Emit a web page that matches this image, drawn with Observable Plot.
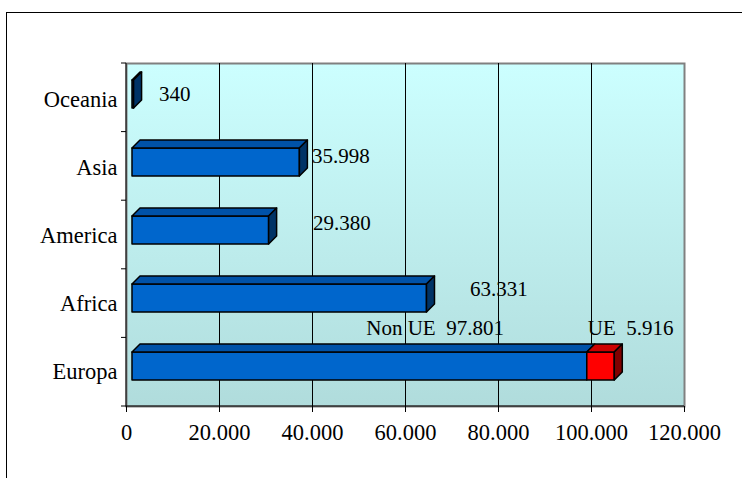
<!DOCTYPE html>
<html>
<head>
<meta charset="utf-8">
<script src="https://cdn.jsdelivr.net/npm/d3@7"></script>
<script src="https://cdn.jsdelivr.net/npm/@observablehq/plot@0.6"></script>
<style>
  html, body { margin: 0; padding: 0; background: #fff; overflow: hidden; width: 742px; height: 478px; }
  #frame { position: absolute; left: 6px; top: 12px; width: 800px; height: 600px; border: 1px solid #000; box-sizing: border-box; }
  #chart { position: absolute; left: 0; top: 0; }
  #chart text { white-space: pre; }
</style>
</head>
<body>
<div id="frame"></div>
<div id="chart"></div>
<script>
// ---- data ----
const categories = ["Oceania", "Asia", "America", "Africa", "Europa"];
const nonUE = [340, 35998, 29380, 63331, 97801];
const ue = [0, 0, 0, 0, 5916];
const xTicks = [0, 20000, 40000, 60000, 80000, 100000, 120000];
const labelTexts = ["340", "35.998", "29.380", "63.331", "Non UE  97.801", "UE  5.916"];
const labelCats = ["Oceania", "Asia", "America", "Africa", "Europa", "Europa"];
const labelVals = [340, 35998, 29380, 63331, 97801, 97801 + 5916];

// ---- styles ----
const labelDx = [31, 18, 50, 49, -215, -21];
const labelDy = [-5, -11, -12, -14, -43, -43];
const fmt = v => v === 0 ? "0" : d3.format(",")(v).replace(/,/g, ".");
const blue = {front: "#0066CC", top: "#0052A8", side: "#003366"};
const red = {front: "#FF0000", top: "#CC0000", side: "#800000"};
const FONT = "'Liberation Serif', 'Times New Roman', serif";

function background() {
  const g = d3.create("svg:g");
  const grad = g.append("defs").append("linearGradient")
    .attr("id", "bgGrad").attr("x1", 0).attr("y1", 0).attr("x2", 0).attr("y2", 1);
  grad.append("stop").attr("offset", "0%").attr("stop-color", "#CCFFFF");
  grad.append("stop").attr("offset", "100%").attr("stop-color", "#B0DCDC");
  return g.node();
}

function bars3d(index, scales, values, dim) {
  const x = scales.x, y = scales.y;
  const n = categories.length;
  const bw = (y && y.bandwidth) ? y.bandwidth() : (dim.height - dim.marginTop - dim.marginBottom) / n;
  const g = d3.create("svg:g")
    .attr("stroke", "#000").attr("stroke-width", 1.5).attr("stroke-linejoin", "round");
  const D = 8, off = 6, h = 28;
  categories.forEach((c, i) => {
    const yb = y(c);
    const T = yb + bw / 2 - 19, B = T + h;
    const segs = [{a: 0, b: nonUE[i], col: blue}];
    if (ue[i] > 0) segs.push({a: nonUE[i], b: nonUE[i] + ue[i], col: red});
    segs.forEach(s => {
      const X0 = x(s.a) + off, X1 = x(s.b) + off;
      g.append("rect").attr("x", X0).attr("y", T).attr("width", X1 - X0).attr("height", h).attr("fill", s.col.front);
      g.append("polygon").attr("points", [[X0, T], [X1, T], [X1 + D, T - D], [X0 + D, T - D]].join(" ")).attr("fill", s.col.top);
    });
    const last = segs[segs.length - 1];
    const X1 = x(last.b) + off;
    g.append("polygon").attr("points", [[X1, T], [X1 + D, T - D], [X1 + D, B - D], [X1, B]].join(" ")).attr("fill", last.col.side);
  });
  return g.node();
}

function axisLines(index, scales, values, dim) {
  const x = scales.x;
  const n = categories.length;
  const top = dim.marginTop, bottom = dim.height - dim.marginBottom;
  const bw = (bottom - top) / n;
  const g = d3.create("svg:g").attr("stroke", "#000").attr("stroke-width", 1);
  const x0 = x(0);
  g.append("line").attr("x1", x0).attr("x2", x0).attr("y1", top).attr("y2", bottom + 0.5);
  g.append("line").attr("x1", x0).attr("x2", x(120000)).attr("y1", bottom).attr("y2", bottom);
  for (let k = 0; k <= n; k++) {
    const yy = top + k * bw;
    g.append("line").attr("x1", x0 - 5).attr("x2", x0).attr("y1", yy).attr("y2", yy);
  }
  return g.node();
}

const labelMarks = labelTexts.map((t, i) =>
  Plot.text([{x: labelVals[i], cat: labelCats[i], t}], {
    x: "x", y: "cat", text: "t", textAnchor: "start",
    dx: labelDx[i], dy: labelDy[i], fontSize: 21, fontFamily: FONT, fill: "#000"
  })
);

const chart = Plot.plot({
  width: 742,
  height: 478,
  marginLeft: 126,
  marginRight: 58,
  marginTop: 63,
  marginBottom: 72,
  style: {fontFamily: FONT, fontSize: "22px", background: "transparent", color: "#000"},
  x: {domain: [0, 120000], label: null},
  y: {type: "band", domain: categories, padding: 0, label: null},
  marks: [
    background,
    Plot.frame({fill: "url(#bgGrad)", stroke: "#808080", strokeWidth: 2}),
    Plot.ruleX(xTicks.slice(1, -1), {stroke: "#000", strokeWidth: 1}),
    axisLines,
    bars3d,
    Plot.axisX({ticks: xTicks, tickFormat: fmt, tickSize: 6, tickPadding: 12, fontSize: 22.5, fontFamily: FONT, label: null, stroke: "#000"}),
    Plot.axisY({tickSize: 0, tickPadding: 9, fontSize: 22.5, fontFamily: FONT, label: null}),
    ...labelMarks
  ]
});
document.getElementById("chart").append(chart);
</script>
</body>
</html>
